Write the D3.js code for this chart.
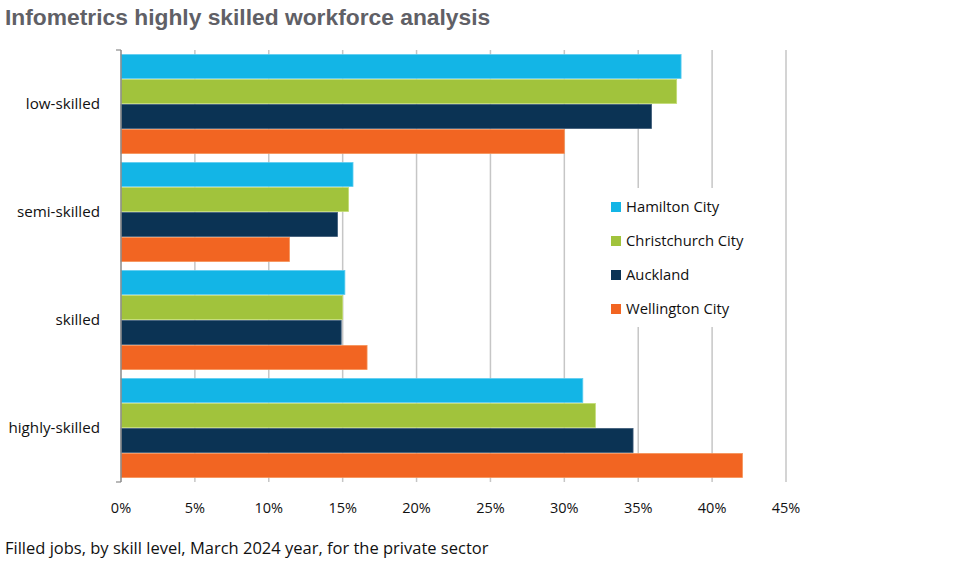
<!DOCTYPE html>
<html>
<head>
<meta charset="utf-8">
<script src="https://cdn.jsdelivr.net/npm/d3@7"></script>
<style>
    body { margin: 0; background: #fff; }
    text { font-family: "Open Sans", sans-serif; fill: #111; }
</style>
</head>
<body>
<svg id="chart" width="980" height="567"></svg>
<script>
/*globals d3*/

// skill levels, top to bottom
var categories = ["low-skilled", "semi-skilled", "skilled", "highly-skilled"];
var seriesNames = ["Hamilton City", "Christchurch City", "Auckland", "Wellington City"];
// share of filled jobs (%) per skill level
var hamilton = [37.9, 15.7, 15.15, 31.25];
var christchurch = [37.6, 15.4, 15.0, 32.1];
var auckland = [35.9, 14.65, 14.9, 34.65];
var wellington = [30.0, 11.4, 16.65, 42.05];
var xTicks = [0, 5, 10, 15, 20, 25, 30, 35, 40, 45];

var colors = ["#13b5e6", "#a1c33c", "#0b3354", "#f26522"];
var strokes = ["#5fcdf0", "#c3dc74", "#3c5a78", "#f69258"];
var seriesValues = [hamilton, christchurch, auckland, wellington];

var svg = d3.select("#chart");

// plot box (note: "top" is taken by window, so use other names)
var plotLeft = 121, plotRight = 786, plotTop = 50, plotBottom = 482;

var xScale = d3.scaleLinear().domain([0, 45]).range([plotLeft, plotRight]);
var yScale = d3.scaleBand().domain(categories).range([plotTop, plotBottom]).paddingInner(8 / 108).paddingOuter(4 / 108);
var inner = d3.scaleBand().domain(seriesNames).range([0, yScale.bandwidth()]);

// title
svg.append("text")
    .attr("x", 5)
    .attr("y", 25)
    .style("font-family", "'Liberation Sans', Arial, sans-serif")
    .style("font-weight", "bold")
    .style("font-size", "22.8px")
    .style("fill", "#606066")
    .text("Infometrics highly skilled workforce analysis");

// vertical grid lines
svg.append("g")
    .selectAll("line")
    .data(xTicks.slice(1))
    .enter()
    .append("line")
    .attr("x1", function (d) { return xScale(d); })
    .attr("x2", function (d) { return xScale(d); })
    .attr("y1", plotTop)
    .attr("y2", plotBottom)
    .attr("stroke", "#c6c6c6")
    .attr("stroke-width", 1.5);

// bars
seriesValues.forEach(function (vals, s) {
    svg.append("g")
        .selectAll("rect")
        .data(vals)
        .enter()
        .append("rect")
        .attr("x", xScale(0))
        .attr("y", function (d, i) { return yScale(categories[i]) + inner(seriesNames[s]) + 0.5; })
        .attr("width", function (d) { return xScale(d) - xScale(0); })
        .attr("height", inner.bandwidth() - 1)
        .attr("fill", colors[s])
        .attr("stroke", strokes[s])
        .attr("stroke-width", 0.8);
});

// left axis line with end ticks
svg.append("line")
    .attr("x1", plotLeft).attr("x2", plotLeft)
    .attr("y1", plotTop).attr("y2", plotBottom)
    .attr("stroke", "#8a8a8a").attr("stroke-width", 1.5);
[plotTop, plotBottom].forEach(function (y) {
    svg.append("line")
        .attr("x1", plotLeft - 5).attr("x2", plotLeft)
        .attr("y1", y).attr("y2", y)
        .attr("stroke", "#8a8a8a").attr("stroke-width", 1.2);
});

// category labels
svg.append("g")
    .selectAll("text")
    .data(categories)
    .enter()
    .append("text")
    .attr("x", 100)
    .attr("y", function (d) { return yScale(d) + yScale.bandwidth() / 2; })
    .attr("dy", "0.35em")
    .attr("text-anchor", "end")
    .style("font-size", "15.2px")
    .text(function (d) { return d; });

// x tick labels
svg.append("g")
    .selectAll("text")
    .data(xTicks)
    .enter()
    .append("text")
    .attr("x", function (d) { return xScale(d); })
    .attr("y", 513)
    .attr("text-anchor", "middle")
    .style("font-size", "14.5px")
    .text(function (d) { return d + "%"; });

// legend, white box hides the grid lines behind it
var legend = svg.append("g").attr("transform", "translate(605,188)");
legend.append("rect")
    .attr("width", 160).attr("height", 139)
    .attr("fill", "#fff");
var rows = legend.selectAll("g")
    .data(seriesNames)
    .enter()
    .append("g")
    .attr("transform", function (d, i) { return "translate(6," + (19 + i * 34) + ")"; });
rows.append("rect")
    .attr("x", 0).attr("y", -5)
    .attr("width", 10).attr("height", 10)
    .attr("fill", function (d, i) { return colors[i]; });
rows.append("text")
    .attr("x", 15)
    .attr("dy", "0.35em")
    .style("font-size", "14.8px")
    .text(function (d) { return d; });

// footnote
svg.append("text")
    .attr("x", 5)
    .attr("y", 554)
    .style("font-size", "16.5px")
    .text("Filled jobs, by skill level, March 2024 year, for the private sector");
</script>
</body>
</html>
